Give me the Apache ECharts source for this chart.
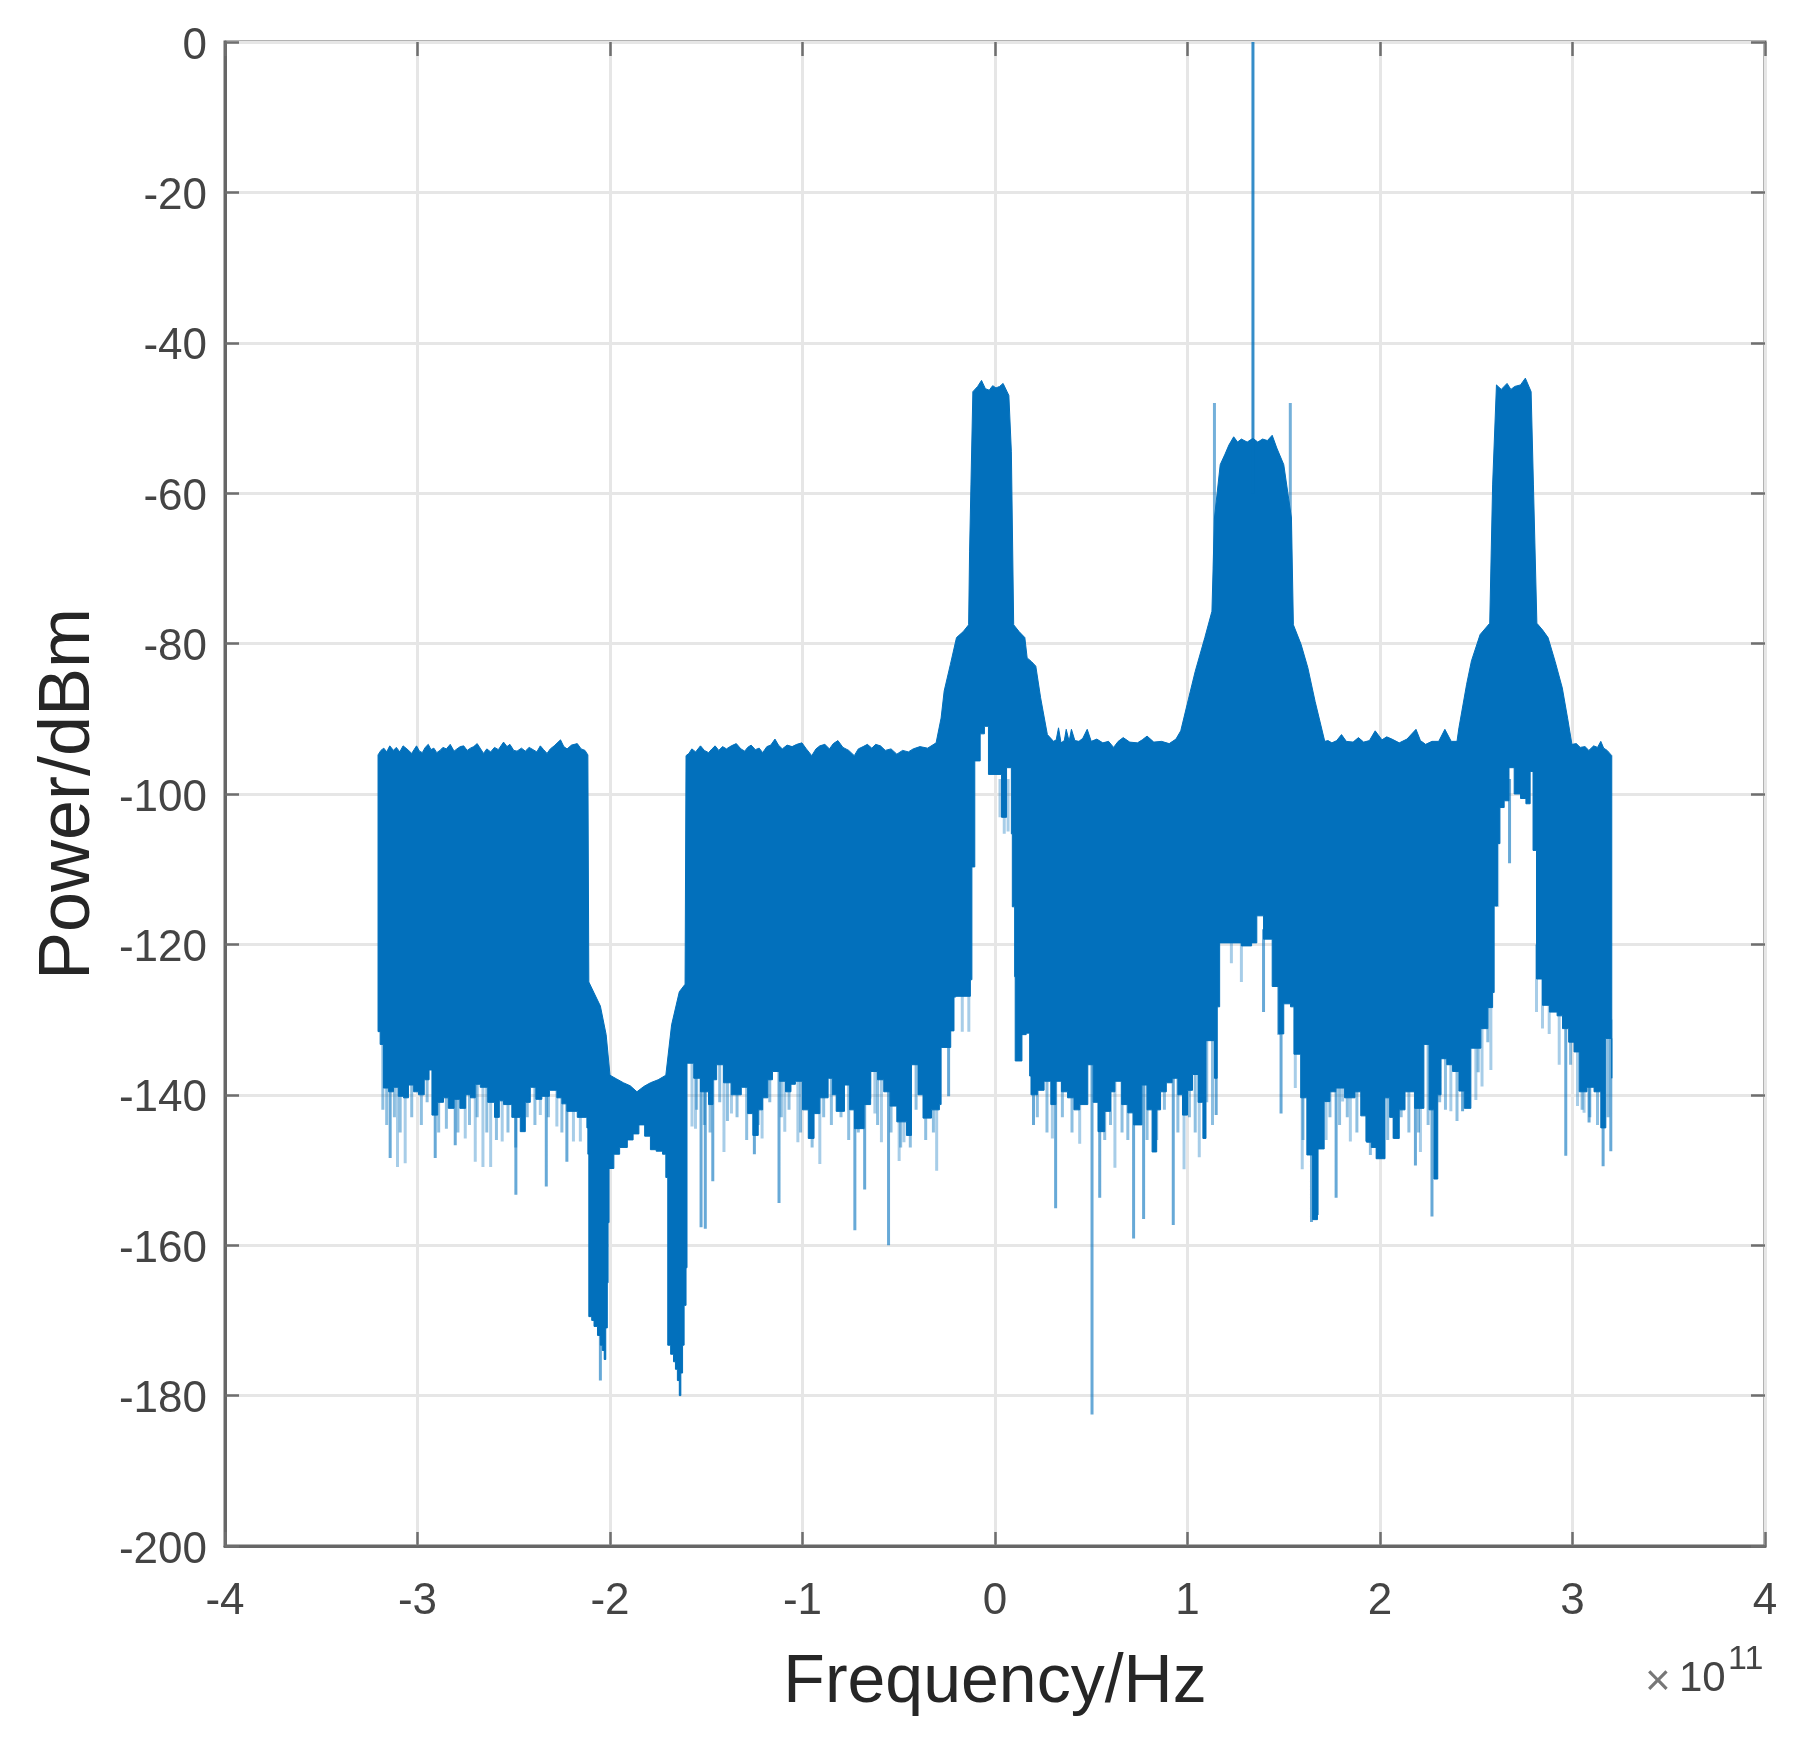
<!DOCTYPE html>
<html>
<head>
<meta charset="utf-8">
<title>Power spectrum</title>
<script src="https://cdn.jsdelivr.net/npm/echarts@6/dist/echarts.min.js"></script>
<style>
  html, body { margin: 0; padding: 0; background: #fff; }
  /* la referencia es una captura reescalada: bordes algo suaves */
  #chart { width: 1803px; height: 1746px; filter: blur(0.7px); }
</style>
</head>
<body>
<div id="chart"></div>
<script>
// Todos los valores: x en unidades de 1e11 Hz, y en dBm
const xRange = [-4, 4];
const yRange = [-200, 0];

// ── Borde superior de la masa sólida ──────────────────────────────────────
const upperEdge = [
  [-3.205,-94.8],[-3.19,-94.2],[-3.175,-93.9],[-3.16,-94.4],[-3.144,-93.6],[-3.125,-94.2],[-3.11,-93.8],[-3.092,-94.4],[-3.075,-93.6],[-3.055,-94],
  [-3.03,-94.6],[-3.018,-94.1],[-3.005,-93.6],[-2.99,-94.3],[-2.975,-94.5],[-2.96,-93.8],[-2.944,-93.4],[-2.93,-94.1],[-2.915,-93.9],[-2.9,-94.5],
  [-2.883,-94.2],[-2.868,-93.8],[-2.85,-94],[-2.83,-93.4],[-2.81,-94.3],[-2.795,-94],[-2.778,-93.7],[-2.76,-93.6],[-2.742,-94.2],[-2.725,-93.9],
  [-2.708,-93.7],[-2.69,-93.3],[-2.672,-94],[-2.657,-94.6],[-2.64,-94],[-2.62,-94.4],[-2.6,-93.8],[-2.58,-94.1],[-2.553,-93.1],[-2.535,-93.7],
  [-2.52,-93.4],[-2.5,-94.2],[-2.483,-94.3],[-2.46,-93.9],[-2.44,-94.3],[-2.42,-93.8],[-2.4,-94.1],[-2.38,-94.4],[-2.362,-93.6],[-2.345,-94.1],
  [-2.327,-94.6],[-2.31,-94],[-2.29,-93.6],[-2.257,-92.8],[-2.24,-93.7],[-2.223,-94],[-2.2,-93.5],[-2.17,-93.3],[-2.15,-94],[-2.13,-94.2],[-2.115,-94.8],
  [-2.11,-125],[-2.08,-126.6],[-2.05,-128.2],[-2.02,-132],[-2,-137.4],[-1.965,-137.9],[-1.93,-138.4],[-1.895,-138.8],[-1.86,-139.6],[-1.825,-138.9],
  [-1.79,-138.4],[-1.75,-138],[-1.71,-137.4],[-1.68,-130.7],[-1.64,-126.3],[-1.61,-125.3],
  [-1.605,-94.9],[-1.59,-94.6],[-1.575,-94],[-1.555,-94.4],[-1.53,-93.6],[-1.51,-94.2],[-1.488,-94.5],[-1.47,-94],[-1.454,-93.6],[-1.435,-94.2],
  [-1.415,-93.7],[-1.395,-94],[-1.37,-93.6],[-1.344,-93.3],[-1.32,-94],[-1.3,-94.3],[-1.285,-93.8],[-1.267,-93.5],[-1.245,-94.1],[-1.225,-93.9],
  [-1.207,-94.5],[-1.185,-93.7],[-1.165,-93.5],[-1.143,-92.7],[-1.125,-93.5],[-1.105,-94],[-1.08,-93.5],[-1.054,-93.7],[-1.03,-93.4],[-1.003,-93.2],
  [-0.98,-94],[-0.952,-94.9],[-0.93,-94],[-0.91,-93.6],[-0.884,-93.4],[-0.86,-94],[-0.84,-93.3],[-0.816,-92.9],[-0.79,-93.8],[-0.76,-94.2],
  [-0.731,-94.9],[-0.71,-94],[-0.685,-93.7],[-0.663,-93.4],[-0.64,-93.9],[-0.62,-93.4],[-0.595,-93.6],[-0.57,-94.2],[-0.54,-94],[-0.51,-94.7],
  [-0.48,-94.2],[-0.45,-94.4],[-0.425,-94],[-0.39,-93.7],[-0.35,-93.9],[-0.306,-93.2],
  [-0.28,-89.9],[-0.264,-86.3],[-0.232,-82.8],[-0.2,-79.2],[-0.165,-78.4],[-0.137,-77.5],[-0.132,-67.7],[-0.125,-58.9],[-0.115,-46.5],[-0.09,-45.8],
  [-0.07,-45],[-0.05,-46.1],[-0.03,-46.3],[-0.012,-45.7],[0.005,-46],[0.024,-45.8],[0.042,-45.4],[0.072,-47],[0.085,-54.5],[0.097,-77.5],
  [0.125,-78.4],[0.155,-79.2],[0.167,-81.9],[0.19,-82.4],[0.212,-83],[0.237,-87.2],[0.272,-92.1],[0.304,-93],[0.318,-92.8],[0.33,-91.2],
  [0.343,-93.2],[0.36,-92.9],[0.37,-91.4],[0.385,-93],[0.397,-91.4],[0.415,-92.9],[0.436,-93],[0.456,-92.6],[0.479,-91.4],[0.5,-93],
  [0.529,-92.7],[0.56,-93.2],[0.59,-93],[0.616,-93.8],[0.64,-93],[0.666,-92.5],[0.7,-93.1],[0.74,-93.2],[0.765,-92.8],[0.79,-92.3],
  [0.825,-93.1],[0.865,-93],[0.905,-93.3],[0.94,-92.7],[0.965,-91.6],[0.998,-88.1],[1.04,-83.7],[1.09,-79.2],[1.127,-75.7],[1.14,-63.3],
  [1.17,-56.2],[1.195,-54.8],[1.215,-53.6],[1.24,-52.5],[1.26,-53.2],[1.28,-52.8],[1.31,-53.2],[1.34,-52.7],[1.365,-53.2],[1.39,-52.8],
  [1.415,-53],[1.44,-52.3],[1.464,-54],[1.5,-56.2],[1.54,-63.3],[1.55,-77.5],[1.59,-80.1],[1.625,-83.2],[1.663,-87.7],[1.713,-93],
  [1.73,-92.9],[1.75,-93.2],[1.775,-92.9],[1.8,-92.1],[1.825,-93],[1.86,-93.1],[1.888,-92.5],[1.915,-93.1],[1.945,-92.9],[1.975,-91.6],
  [2.01,-92.8],[2.035,-92.4],[2.062,-92.7],[2.1,-93.2],[2.14,-92.7],[2.187,-91.4],[2.21,-92.9],[2.237,-93.4],[2.27,-93],[2.305,-93],
  [2.337,-91.4],[2.37,-93],[2.4,-93],[2.41,-91.2],[2.45,-85.4],[2.475,-82.3],[2.52,-78.8],[2.57,-77.3],[2.585,-58.9],[2.605,-45.6],
  [2.63,-46.2],[2.66,-45.4],[2.68,-46.2],[2.7,-45.8],[2.73,-45.6],[2.755,-44.7],[2.785,-46.5],[2.797,-58.9],[2.815,-77.3],[2.845,-78.2],
  [2.873,-79.2],[2.91,-82.4],[2.947,-85.9],[2.975,-90],[2.997,-93.4],[3.02,-93.3],[3.04,-93.8],[3.065,-93.7],[3.085,-94.2],[3.11,-93.6],
  [3.13,-93.8],[3.147,-93],[3.162,-93.9],[3.18,-94.2],[3.204,-94.9]
];

// ── Borde inferior de la masa sólida ──────────────────────────────────────
const lowerEdge = [
  [-3.205,-131.6],[-3.194,-133.3],[-3.177,-139.1],[-3.15,-139.6],[-3.125,-139],[-3.1,-140.2],[-3.073,-140.4],[-3.047,-138.7],[-3.02,-139.6],[-2.995,-140],
  [-2.965,-138],[-2.94,-136.7],[-2.925,-142.7],[-2.895,-141],[-2.865,-140.4],[-2.84,-141.8],[-2.81,-140.6],[-2.78,-141.8],[-2.75,-140],[-2.725,-140.4],
  [-2.7,-138.6],[-2.674,-139],[-2.635,-141],[-2.6,-143],[-2.575,-140.8],[-2.553,-141.3],[-2.51,-143],[-2.466,-144.9],[-2.44,-141],[-2.414,-139],
  [-2.385,-140.6],[-2.354,-140.2],[-2.315,-139.4],[-2.276,-140.4],[-2.25,-141.2],[-2.224,-142.2],[-2.17,-143],[-2.12,-144.4],[-2.115,-147.9],[-2.11,-169.5],
  [-2.095,-170],[-2.083,-170.8],[-2.065,-172],[-2.05,-173.3],[-2.04,-174],[-2.03,-175.2],[-2.022,-171],[-2.014,-165],[-2.01,-157],[-2.005,-149.8],
  [-1.98,-147.9],[-1.95,-147],[-1.91,-146],[-1.88,-145.2],[-1.85,-144],[-1.82,-145.5],[-1.79,-147.3],[-1.76,-147.5],[-1.727,-147.9],[-1.71,-151],
  [-1.7,-173.3],[-1.685,-174.5],[-1.67,-175.5],[-1.66,-176.5],[-1.65,-178],[-1.64,-180],[-1.632,-177],[-1.623,-173.3],[-1.615,-168],[-1.605,-163],
  [-1.6,-135.8],[-1.565,-137.8],[-1.53,-139.6],[-1.488,-141.3],[-1.465,-138],[-1.446,-136],[-1.41,-138.4],[-1.37,-140],[-1.318,-139],[-1.285,-142.5],
  [-1.258,-145.4],[-1.23,-142],[-1.207,-140.4],[-1.18,-138],[-1.156,-136.9],[-1.12,-138.2],[-1.088,-139.6],[-1.06,-138.6],[-1.037,-138.2],[-1,-142],
  [-0.97,-145.8],[-0.94,-142.5],[-0.91,-140.4],[-0.867,-137.8],[-0.845,-140],[-0.825,-142.2],[-0.782,-138.7],[-0.755,-142],[-0.73,-144.5],[-0.68,-141.3],
  [-0.646,-136.9],[-0.61,-138],[-0.578,-139.6],[-0.545,-141.5],[-0.51,-143.6],[-0.46,-145.4],[-0.434,-136],[-0.4,-140],[-0.374,-143.1],[-0.33,-142],
  [-0.289,-141.3],[-0.28,-133.7],[-0.23,-131.5],[-0.213,-127],[-0.204,-126.9],[-0.128,-124.7],[-0.12,-109.7],[-0.105,-95.6],[-0.077,-92],[-0.055,-91],
  [-0.034,-97.4],[0,-97.4],[0.034,-103.1],[0.06,-96.5],[0.085,-105.3],[0.09,-115],[0.102,-124.3],[0.105,-135.5],[0.14,-132],[0.162,-131.8],
  [0.18,-137.5],[0.187,-140],[0.22,-139.4],[0.255,-138.2],[0.29,-141.3],[0.316,-138.2],[0.345,-139.6],[0.377,-140.4],[0.41,-142],[0.44,-141.3],
  [0.482,-136],[0.51,-141],[0.535,-144.9],[0.57,-142.2],[0.6,-139.6],[0.623,-138.2],[0.658,-141.3],[0.69,-142.4],[0.72,-144],[0.763,-138.7],
  [0.79,-142],[0.816,-147.6],[0.84,-142],[0.86,-139.6],[0.89,-138.4],[0.92,-137.8],[0.95,-140],[0.974,-142.7],[1,-139.4],[1.026,-137.3],
  [1.055,-141],[1.08,-145.8],[1.096,-132.8],[1.14,-137.8],[1.154,-128.3],[1.167,-119.8],[1.228,-119.8],[1.28,-120.2],[1.333,-119.8],[1.36,-116.2],
  [1.395,-119.3],[1.44,-125.6],[1.474,-131.9],[1.5,-127.9],[1.535,-128.3],[1.553,-134.6],[1.588,-140.4],[1.62,-148],[1.65,-156.6],[1.675,-147.2],
  [1.71,-140.9],[1.74,-139.6],[1.77,-139.1],[1.816,-140.4],[1.87,-139.6],[1.9,-142.8],[1.93,-146.3],[1.955,-147],[1.98,-148.5],[2.026,-140.4],
  [2.05,-143],[2.07,-145.8],[2.1,-142],[2.13,-139.6],[2.18,-141.8],[2.228,-133.3],[2.255,-142],[2.28,-151.2],[2.3,-140],[2.317,-135.2],
  [2.347,-136],[2.377,-136.9],[2.41,-139.5],[2.438,-141.8],[2.472,-133.8],[2.524,-131.2],[2.56,-128.4],[2.585,-126.4],[2.593,-114.9],[2.61,-106.6],
  [2.623,-101.8],[2.645,-100.9],[2.67,-96.5],[2.697,-100],[2.73,-100.6],[2.758,-101.3],[2.78,-97],[2.795,-107.5],[2.813,-124.6],[2.844,-128.1],
  [2.88,-129],[2.92,-129.5],[2.948,-131.2],[2.98,-133],[3.008,-134.3],[3.035,-139.6],[3.075,-139],[3.112,-139.6],[3.147,-144.4],[3.173,-132.5],[3.204,-137.8]
];

// ── Picos hacia abajo: [frecuencia, desde, hasta] ─────────────────────────
const paleSpikes = [
  [-3.104,-130,-149.6],[-3.064,-130,-149.1],[-2.752,-130,-145.8],[-2.7,-130,-148.9],[-2.66,-130,-149.6],[-2.62,-130,-149.6],[-2.56,-130,-146.2],[-2.362,-130,-142.7],
  [-2.276,-130,-144.2],[-2.19,-130,-146.2],[-2.154,-130,-146.2],[-1.574,-130,-144.2],[-1.556,-130,-144.5],[-1.408,-130,-147.6],[-1.369,-130,-142.5],[-1.21,-130,-145.8],
  [-1.092,-130,-144.9],[-1.024,-130,-146.3],[-0.91,-130,-149.2],[-0.624,-130,-142.5],[-0.59,-130,-146.3],[-0.498,-130,-148.8],[-0.473,-130,-146.3],[-0.303,-130,-150.1],
  [-0.17,-120,-131.6],[-0.136,-110,-131.6],[0.026,-98,-103.1],[0.048,-98,-105.3],[0.068,-98,-105],[0.298,-130,-145.8],[0.44,-130,-146.5],[0.623,-130,-149.7],
  [0.982,-130,-149.9],[1.061,-130,-148.3],[1.228,-118,-122.5],[1.28,-118,-125],[1.56,-130,-139.1],[1.596,-130,-149.9],[1.72,-130,-146],[1.806,-130,-140.9],
  [1.846,-130,-146.2],[2.07,-130,-145.8],[2.21,-130,-147.6],[2.368,-130,-142.2],[2.498,-130,-140.7],[2.53,-130,-138.9],[2.576,-120,-136.7],[2.611,-100,-115],
  [2.813,-120,-129],[2.844,-120,-131.2],[2.879,-120,-131.9],[2.931,-125,-136],[3.026,-130,-141.5],[3.06,-130,-142.4]
];
const midSpikes = [
  [-3.142,-130,-148.4],[-2.908,-130,-148.4],[-2.804,-130,-146.7],[-2.489,-130,-153.3],[-2.331,-130,-152.2],[-2.224,-130,-148.9],[-2.05,-160,-178],[-1.527,-130,-157.6],
  [-1.505,-130,-157.8],[-1.466,-130,-151.5],[-1.25,-130,-147.9],[-1.122,-130,-154.4],[-0.728,-130,-158],[-0.677,-130,-152.6],[-0.553,-130,-160],[-0.241,-125,-140.2],
  [0.2,-130,-144],[0.315,-130,-155.1],[0.504,-130,-182.5],[0.544,-130,-153.7],[0.72,-130,-159.1],[0.772,-130,-156.5],[0.926,-130,-157.3],
  [1.149,-125,-142.7],[1.395,-118,-129],[1.474,-125,-132],[1.486,-125,-142.5],[1.644,-130,-156.9],[1.675,-130,-156],[1.772,-130,-153.7],[1.93,-130,-146.2],
  [1.988,-130,-148.4],[2.184,-130,-149.4],[2.27,-130,-156.2],[2.429,-130,-142.2],[2.673,-98,-109.2],[2.965,-130,-148.1],[3.086,-130,-143.7],[3.159,-130,-149.5],[3.199,-130,-147.5]
];
// Flecos cortos justo bajo la masa sólida
const fringeSpikes = [
  [-3.18,-130,-142],[-3.16,-130,-144],[-3.12,-130,-143],[-3.09,-130,-145],[-3.03,-130,-143],[-2.98,-130,-144],[-2.95,-130,-141],[-2.89,-130,-145],[-2.85,-130,-144.5],[-2.79,-130,-145],
  [-2.73,-130,-144],[-2.69,-130,-143],[-2.64,-130,-145],[-2.59,-130,-146],[-2.53,-130,-145],[-2.49,-130,-147],[-2.43,-130,-143],[-2.39,-130,-144],[-2.32,-130,-143],[-2.25,-130,-145],
  [-1.55,-130,-142],[-1.51,-130,-144],[-1.48,-130,-145],[-1.43,-130,-141],[-1.39,-130,-143.5],[-1.34,-130,-143],[-1.29,-130,-146],[-1.23,-130,-144],[-1.17,-130,-141],[-1.11,-130,-143],
  [-1.07,-130,-142],[-1.01,-130,-145],[-0.95,-130,-147],[-0.89,-130,-143],[-0.85,-130,-144],[-0.8,-130,-143],[-0.76,-130,-146],[-0.71,-130,-145],[-0.65,-130,-140.5],[-0.61,-130,-144],
  [-0.54,-130,-145],[-0.49,-130,-147],[-0.44,-130,-147],[-0.41,-130,-142],[-0.36,-130,-146],[-0.32,-130,-145],[0.22,-130,-143],[0.27,-130,-145],[0.35,-130,-143],[0.4,-130,-145],
  [0.47,-130,-141],[0.57,-130,-146],[0.6,-130,-144],[0.66,-130,-145],[0.69,-130,-146],[0.75,-130,-143],[0.79,-130,-146],[0.84,-130,-146],[0.88,-130,-142],[0.95,-130,-145],
  [1.01,-130,-143],[1.04,-130,-145],[1.1,-130,-141],[1.13,-130,-144],[1.6,-130,-146],[1.69,-130,-145],[1.74,-130,-143],[1.79,-130,-144],[1.83,-130,-143],[1.88,-130,-145],
  [1.95,-130,-148],[2.01,-130,-144],[2.04,-130,-146],[2.11,-130,-143],[2.15,-130,-145],[2.2,-130,-145],[2.25,-130,-144],[2.31,-130,-141],[2.34,-130,-142],[2.4,-130,-143.5],
  [2.46,-130,-140],[2.51,-128,-137],[2.56,-128,-133],[2.99,-128,-136],[3.05,-130,-142],[3.09,-130,-143],[3.13,-130,-144],[3.185,-130,-143]
];

// ── Picos hacia arriba ────────────────────────────────────────────────────
const sideTones = [[1.14,-70,-48],[1.534,-70,-48]];
const carrierTone = [[1.34,-60,0]];

// Cada pico es un tramo vertical; el null corta la línea entre tramos
function _toSegments(spikes) {
  return spikes.flatMap(([f, from, to]) => [[f, from], [f, to], [f, null]]);
}

// El borde inferior va en escalones para que parezca columnas del espectro
function _stepped(edge) {
  const out = [];
  edge.forEach((p, i) => {
    out.push(p);
    if (i < edge.length - 1) out.push([edge[i + 1][0], p[1]]);
  });
  return out;
}

function renderBody(params, api) {
  const outline = [...upperEdge, ..._stepped(lowerEdge).reverse()].map(p => api.coord(p));
  return {
    type: 'polygon',
    shape: { points: outline },
    style: { fill: '#0270BC', stroke: '#0270BC', lineWidth: 1 },
  };
}

function spikeSeries(spikes, opacity, z) {
  return {
    type: 'line',
    data: _toSegments(spikes),
    showSymbol: false,
    connectNulls: false,
    z,
    lineStyle: { color: '#0270BC', width: 3, opacity, cap: 'butt' },
  };
}

const FONT = '"Liberation Sans", Arial, sans-serif';
const GRID_LINE = { show: true, lineStyle: { color: '#e6e6e6', width: 3 } };
const TICK = { show: true, inside: true, length: 14, lineStyle: { color: '#6f6f6f', width: 2.5 } };

const chart = echarts.init(document.getElementById('chart'), null, { renderer: 'canvas' });

chart.setOption({
  animation: false,
  backgroundColor: '#fff',
  textStyle: { fontFamily: FONT },
  grid: {
    left: 225, right: 38, top: 42, bottom: 200,
    outerBoundsMode: 'none',
    show: true, borderColor: '#666', borderWidth: 3, backgroundColor: '#fff',
  },
  xAxis: [
    {
      type: 'value', min: xRange[0], max: xRange[1], interval: 1,
      name: 'Frequency/Hz', nameLocation: 'middle', nameGap: 103,
      nameTextStyle: { fontSize: 68, color: '#262626', fontFamily: FONT },
      axisLine: { show: true, onZero: false, lineStyle: { color: '#666', width: 3 } },
      axisTick: TICK,
      axisLabel: { fontSize: 44, color: '#444', margin: 34, fontFamily: FONT, showMinLabel: true, showMaxLabel: true },
      splitLine: GRID_LINE,
    },
    {
      type: 'value', position: 'top', min: xRange[0], max: xRange[1], interval: 1,
      axisLine: { show: false, onZero: false }, axisTick: TICK, axisLabel: { show: false }, splitLine: { show: false },
    },
  ],
  yAxis: [
    {
      type: 'value', min: yRange[0], max: yRange[1], interval: 20,
      name: 'Power/dBm', nameLocation: 'middle', nameGap: 120, nameRotate: 90,
      nameTextStyle: { fontSize: 72, color: '#262626', fontFamily: FONT },
      axisLine: { show: true, onZero: false, lineStyle: { color: '#666', width: 3 } },
      axisTick: TICK,
      // caja de línea baja con alineación arriba: el texto queda 4-5 px bajo la marca
      axisLabel: { fontSize: 44, color: '#444', margin: 18, verticalAlign: 'top', lineHeight: 9, fontFamily: FONT, showMinLabel: true, showMaxLabel: true },
      splitLine: GRID_LINE,
    },
    {
      type: 'value', position: 'right', min: yRange[0], max: yRange[1], interval: 20,
      axisLine: { show: false, onZero: false }, axisTick: TICK, axisLabel: { show: false }, splitLine: { show: false },
    },
  ],
  series: [
    spikeSeries(fringeSpikes, 0.45, 2),
    spikeSeries(paleSpikes, 0.35, 2),
    spikeSeries(midSpikes, 0.6, 3),
    spikeSeries(sideTones, 0.55, 3),
    {
      type: 'custom',
      coordinateSystem: 'cartesian2d',
      data: [[0, -100]],
      renderItem: renderBody,
      clip: true,
      silent: true,
      z: 4,
    },
    spikeSeries(carrierTone, 0.8, 5),
  ],
  graphic: [
    { type: 'text', left: 1645, top: 1661, style: { text: '×', fontSize: 44, fill: '#777', fontFamily: FONT } },
    { type: 'text', left: 1679, top: 1658, style: { text: '10', fontSize: 42, fill: '#444', fontFamily: FONT } },
    { type: 'text', left: 1728, top: 1643, style: { text: '11', fontSize: 34, fill: '#444', fontFamily: FONT } },
  ],
});

window.addEventListener('resize', () => chart.resize());
</script>
</body>
</html>
